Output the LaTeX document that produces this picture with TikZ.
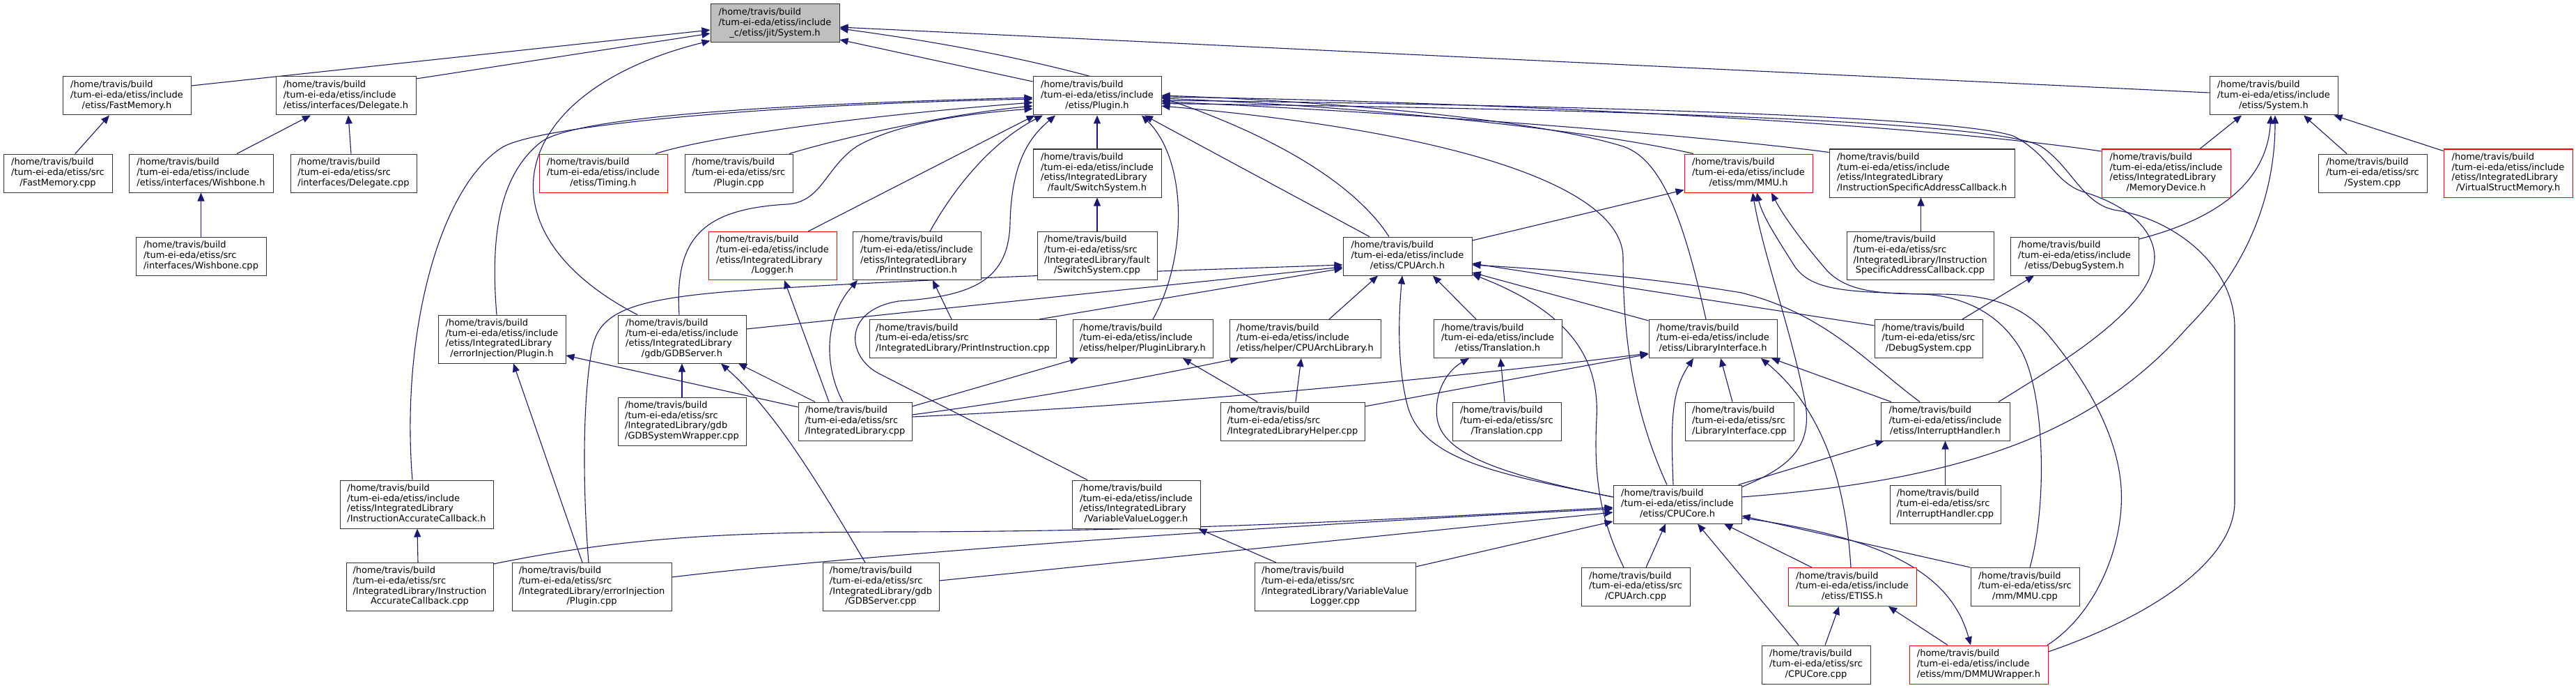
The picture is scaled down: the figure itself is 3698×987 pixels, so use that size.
\documentclass[tikz,border=0pt]{standalone}
\usepackage{fontspec}
\setmainfont{DejaVu Sans}
\usetikzlibrary{arrows.meta}
\pgfdeclarelayer{edges}
\pgfsetlayers{edges,main}
\definecolor{edgec}{HTML}{191970}
\definecolor{nodeg}{HTML}{BFBFBF}
\newcommand\NHB{/home/travis/build}
\newcommand\NTI{/tum-ei-eda/etiss/include}
\newcommand\NTS{/tum-ei-eda/etiss/src}
\newcommand\NIL{/etiss/IntegratedLibrary}
\newcommand\Nlab[2]{\begin{tabular}{@{}l@{}}#1\\\multicolumn{1}{@{}c@{}}{#2}\end{tabular}}
\begin{document}
\begin{tikzpicture}[x=1pt,y=-1pt,
 nb/.style={draw=black!80,line width=1pt,fill=white,inner sep=0pt,font=\fontsize{13}{14.67}\selectfont},
 rb/.style={nb,draw=red},
 ed/.style={draw=edgec,line width=1.1pt,-{Triangle[length=12pt,width=10pt]}}]
\useasboundingbox (0,0) rectangle (3698,987);
% nodes
\node[nb,fill=nodeg,minimum width=185,minimum height=55] (sysj) at (1112.5,33.5) {\Nlab{\NHB\\\NTI}{\_c/etiss/jit/System.h}};
\node[nb,minimum width=184,minimum height=55] (fmh) at (182,137.5) {\Nlab{\NHB\\\NTI}{/etiss/FastMemory.h}};
\node[nb,minimum width=201,minimum height=55] (dlh) at (496.5,137.5) {\Nlab{\NHB\\\NTI}{/etiss/interfaces/Delegate.h}};
\node[nb,minimum width=184,minimum height=55] (plh) at (1575,137.5) {\Nlab{\NHB\\\NTI}{/etiss/Plugin.h}};
\node[nb,minimum width=184,minimum height=55] (sysh) at (3264,137.5) {\Nlab{\NHB\\\NTI}{/etiss/System.h}};
\node[nb,minimum width=156,minimum height=55] (fmc) at (83,248.5) {\Nlab{\NHB\\\NTS}{/FastMemory.cpp}};
\node[nb,minimum width=207,minimum height=55] (wbh) at (288.5,248.5) {\Nlab{\NHB\\\NTI}{/etiss/interfaces/Wishbone.h}};
\node[nb,minimum width=181,minimum height=55] (dlc) at (507.5,248.5) {\Nlab{\NHB\\\NTS}{/interfaces/Delegate.cpp}};
\node[nb,minimum width=187,minimum height=55] (wbc) at (288.5,367.5) {\Nlab{\NHB\\\NTS}{/interfaces/Wishbone.cpp}};
\node[rb,minimum width=184,minimum height=55] (tmh) at (866,248.5) {\Nlab{\NHB\\\NTI}{/etiss/Timing.h}};
\node[nb,minimum width=155,minimum height=55] (plc) at (1060.5,248.5) {\Nlab{\NHB\\\NTS}{/Plugin.cpp}};
\node[nb,minimum width=184,minimum height=69] (ssh) at (1575,248.5) {\Nlab{\NHB\\\NTI\\\NIL}{/fault/SwitchSystem.h}};
\node[nb,minimum width=172,minimum height=69] (ssc) at (1575,367) {\Nlab{\NHB\\\NTS\\/IntegratedLibrary/fault}{/SwitchSystem.cpp}};
\node[rb,minimum width=184,minimum height=55] (mmuh) at (2510,248.5) {\Nlab{\NHB\\\NTI}{/etiss/mm/MMU.h}};
\node[nb,minimum width=266,minimum height=69] (isah) at (2759,248.5) {\Nlab{\NHB\\\NTI\\\NIL}{/InstructionSpecificAddressCallback.h}};
\node[nb,minimum width=211,minimum height=69] (isac) at (2756.5,367) {\Nlab{\NHB\\\NTS\\/IntegratedLibrary/Instruction}{SpecificAddressCallback.cpp}};
\node[rb,minimum width=185,minimum height=69] (mdh) at (3109.5,248.5) {\Nlab{\NHB\\\NTI\\\NIL}{/MemoryDevice.h}};
\node[nb,minimum width=156,minimum height=55] (sysc) at (3406,248.5) {\Nlab{\NHB\\\NTS}{/System.cpp}};
\node[rb,minimum width=185,minimum height=69] (vsmh) at (3600.5,248.5) {\Nlab{\NHB\\\NTI\\\NIL}{/VirtualStructMemory.h}};
\node[rb,minimum width=184,minimum height=69] (lgh) at (1109,367) {\Nlab{\NHB\\\NTI\\\NIL}{/Logger.h}};
\node[nb,minimum width=184,minimum height=69] (pih) at (1316,367) {\Nlab{\NHB\\\NTI\\\NIL}{/PrintInstruction.h}};
\node[nb,minimum width=185,minimum height=55] (cah) at (2020.5,367.5) {\Nlab{\NHB\\\NTI}{/etiss/CPUArch.h}};
\node[nb,minimum width=184,minimum height=55] (dsh) at (2978,367.5) {\Nlab{\NHB\\\NTI}{/etiss/DebugSystem.h}};
\node[nb,minimum width=183,minimum height=69] (eih) at (720.5,486.5) {\Nlab{\NHB\\\NTI\\\NIL}{/errorInjection/Plugin.h}};
\node[nb,minimum width=184,minimum height=69] (gsh) at (979,486.5) {\Nlab{\NHB\\\NTI\\\NIL}{/gdb/GDBServer.h}};
\node[nb,minimum width=268,minimum height=55] (pic) at (1382,486) {\Nlab{\NHB\\\NTS}{/IntegratedLibrary/PrintInstruction.cpp}};
\node[nb,minimum width=201,minimum height=55] (plib) at (1640.5,486) {\Nlab{\NHB\\\NTI}{/etiss/helper/PluginLibrary.h}};
\node[nb,minimum width=217,minimum height=55] (calib) at (1873.5,486) {\Nlab{\NHB\\\NTI}{/etiss/helper/CPUArchLibrary.h}};
\node[nb,minimum width=184,minimum height=55] (trh) at (2150,486) {\Nlab{\NHB\\\NTI}{/etiss/Translation.h}};
\node[nb,minimum width=184,minimum height=55] (lih) at (2459,486) {\Nlab{\NHB\\\NTI}{/etiss/LibraryInterface.h}};
\node[nb,minimum width=155,minimum height=55] (dsc) at (2768.5,486) {\Nlab{\NHB\\\NTS}{/DebugSystem.cpp}};
\node[nb,minimum width=184,minimum height=69] (gswc) at (979,604.5) {\Nlab{\NHB\\\NTS\\/IntegratedLibrary/gdb}{/GDBSystemWrapper.cpp}};
\node[nb,minimum width=163,minimum height=55] (ilc) at (1227.5,604.5) {\Nlab{\NHB\\\NTS}{/IntegratedLibrary.cpp}};
\node[nb,minimum width=207,minimum height=55] (ilhc) at (1855.5,604.5) {\Nlab{\NHB\\\NTS}{/IntegratedLibraryHelper.cpp}};
\node[nb,minimum width=156,minimum height=55] (trc) at (2163,604.5) {\Nlab{\NHB\\\NTS}{/Translation.cpp}};
\node[nb,minimum width=156,minimum height=55] (lic) at (2497,604.5) {\Nlab{\NHB\\\NTS}{/LibraryInterface.cpp}};
\node[nb,minimum width=185,minimum height=55] (ihh) at (2792.5,604.5) {\Nlab{\NHB\\\NTI}{/etiss/InterruptHandler.h}};
\node[nb,minimum width=220,minimum height=69] (iach) at (598,723.5) {\Nlab{\NHB\\\NTI\\\NIL}{/InstructionAccurateCallback.h}};
\node[nb,minimum width=184,minimum height=69] (vvlh) at (1631,723.5) {\Nlab{\NHB\\\NTI\\\NIL}{/VariableValueLogger.h}};
\node[nb,minimum width=184,minimum height=55] (cch) at (2408,723.5) {\Nlab{\NHB\\\NTI}{/etiss/CPUCore.h}};
\node[nb,minimum width=159,minimum height=55] (ihc) at (2792.5,723.5) {\Nlab{\NHB\\\NTS}{/InterruptHandler.cpp}};
\node[nb,minimum width=211,minimum height=69] (iacc) at (602.5,842) {\Nlab{\NHB\\\NTS\\/IntegratedLibrary/Instruction}{AccurateCallback.cpp}};
\node[nb,minimum width=229,minimum height=69] (eic) at (849.5,842) {\Nlab{\NHB\\\NTS\\/IntegratedLibrary/errorInjection}{/Plugin.cpp}};
\node[nb,minimum width=167,minimum height=69] (gsc) at (1264.5,842) {\Nlab{\NHB\\\NTS\\/IntegratedLibrary/gdb}{/GDBServer.cpp}};
\node[nb,minimum width=231,minimum height=69] (vvlc) at (1916.5,842) {\Nlab{\NHB\\\NTS\\/IntegratedLibrary/VariableValue}{Logger.cpp}};
\node[nb,minimum width=156,minimum height=55] (cac) at (2348,842) {\Nlab{\NHB\\\NTS}{/CPUArch.cpp}};
\node[rb,minimum width=184,minimum height=55] (etih) at (2659,842) {\Nlab{\NHB\\\NTI}{/etiss/ETISS.h}};
\node[nb,minimum width=156,minimum height=55] (mmuc) at (2907,842) {\Nlab{\NHB\\\NTS}{/mm/MMU.cpp}};
\node[nb,minimum width=156,minimum height=55] (ccc) at (2607,953.5) {\Nlab{\NHB\\\NTS}{/CPUCore.cpp}};
\node[rb,minimum width=199,minimum height=55] (dmmuh) at (2840.5,953.5) {\Nlab{\NHB\\\NTI}{/etiss/mm/DMMUWrapper.h}};
% edges
\begin{pgfonlayer}{edges}
\fill[white] (0,0) rectangle (3698,987);
% into jit/System.h
\draw[ed] ([yshift=14.5]fmh.east) -- ([yshift=-9.5]sysj.west);
\draw[ed] ([yshift=24.5]dlh.east) -- ([yshift=-14.5]sysj.west);
\draw[ed] ([yshift=20.5]plh.west) -- ([yshift=-23.5]sysj.east);
\draw[ed] ([yshift=4.5]sysh.west) -- ([yshift=-5.5]sysj.east);
\draw[ed] ([xshift=-26.5]cah.north) .. controls (1930,240) and (1720,110) .. ([yshift=-7.5]sysj.east);
\draw[ed] ([xshift=-64]gsh.north) .. controls (680,330) and (730,130) .. ([yshift=3]sysj.south west);
% small left groups
\draw[ed] ([xshift=25]fmc.north) -- ([xshift=-25]fmh.south);
\draw[ed] ([xshift=51.5]wbh.north) -- ([xshift=-50.5]dlh.south);
\draw[ed] ([xshift=-3.5]dlc.north) -- ([xshift=3.5]dlh.south);
\draw[ed] (wbc.north) -- (wbh.south);
% into Plugin.h (left side)
\draw[ed] ([xshift=-6]iach.north) .. controls (575,480) and (630,270) .. (720,212) .. controls (770,180) and (1100,150) .. ([yshift=-4.5]plh.west);
\draw[ed] ([xshift=-7.5]eih.north) .. controls (703,330) and (720,250) .. (775,205) .. controls (820,168) and (1100,150) .. ([yshift=-2.5]plh.west);
\draw[ed] ([xshift=75]tmh.north) .. controls (1020,195) and (1250,165) .. ([yshift=-9.5]plh.west);
\draw[ed] ([xshift=72.5]plc.north) .. controls (1200,200) and (1350,165) .. ([yshift=-14.5]plh.west);
\draw[ed] ([xshift=-4]gsh.north) .. controls (968,340) and (1010,300) .. (1130,293) .. controls (1180,290) and (1185,240) .. (1230,210) .. controls (1290,175) and (1400,162) .. ([yshift=-18.5]plh.west);
\draw[ed] ([xshift=51]lgh.north) -- ([xshift=3]plh.south west);
\draw[ed] ([xshift=19]pih.north) .. controls (1375,260) and (1430,200) .. ([xshift=-78]plh.south);
\draw[ed] ([xshift=-70]vvlh.north) -- (1260,535) .. controls (1215,510) and (1210,445) .. (1290,432) .. controls (1400,425) and (1448,400) .. (1450,320) .. controls (1452,230) and (1480,195) .. ([xshift=-60]plh.south);
\draw[ed] (ssh.north) -- (plh.south);
\draw[ed] (ssc.north) -- (ssh.south);
\draw[ed] ([xshift=14.5]plib.north) .. controls (1705,370) and (1705,230) .. ([xshift=64]plh.south);
\draw[ed] ([xshift=-54.5]cah.north) -- ([xshift=68]plh.south);
% into Plugin.h (right side)
\draw[ed] ([xshift=-15]cch.north) .. controls (2340,580) and (2330,470) .. (2330,370) .. controls (2330,270) and (2100,190) .. ([yshift=-14.5]plh.east);
\draw[ed] ([xshift=-79]mmuh.north) .. controls (2300,190) and (2000,155) .. ([yshift=-3.5]plh.east);
\draw[ed] ([yshift=30]isah.west) .. controls (2450,195) and (2000,160) .. ([yshift=-8.5]plh.east);
\draw[ed] ([yshift=31.5]mdh.west) .. controls (2700,170) and (2000,143) .. ([yshift=-1.5]plh.east);
\draw[ed] ([xshift=76.5]ihh.north) .. controls (2960,520) and (3095,440) .. (3093,367) .. controls (3090,320) and (3040,290) .. (2990,275) .. controls (2950,262) and (2940,220) .. (2890,195) .. controls (2800,165) and (2200,150) .. ([yshift=-6.5]plh.east);
\draw[ed] ([yshift=18.5]dmmuh.east) .. controls (3100,880) and (3208,800) .. (3208,720) -- (3208,470) .. controls (3208,380) and (3120,315) .. (3040,302) .. controls (2990,295) and (2975,240) .. (2930,210) .. controls (2860,170) and (2200,155) .. ([yshift=-11]plh.east);
\draw[ed] ([xshift=-10]lih.north) .. controls (2420,330) and (2390,230) .. (2330,210) .. controls (2200,170) and (1900,145) .. ([yshift=0.5]plh.east);
% into etiss/System.h
\draw[ed] ([xshift=48.5]mdh.north) -- ([xshift=-46]sysh.south);
\draw[ed] ([xshift=-37]sysc.north) -- ([xshift=43]sysh.south);
\draw[ed] ([yshift=-3]vsmh.north west) -- ([xshift=-6]sysh.south east);
\draw[ed] ([yshift=24.5]dsh.east) .. controls (3200,310) and (3255,250) .. ([xshift=-4]sysh.south);
\draw[ed] ([yshift=10.5]cch.east) .. controls (2800,690) and (3000,630) .. (3140,470) .. controls (3240,370) and (3266,260) .. ([xshift=2]sysh.south);
% into MMU.h
\draw[ed] ([yshift=22.5]cah.east) -- ([yshift=4]mmuh.south west);
\draw[ed] ([yshift=-3]cch.north east) .. controls (2570,670) and (2605,640) .. (2590,570) .. controls (2570,470) and (2530,360) .. ([xshift=6]mmuh.south);
\draw[ed] ([xshift=7]mmuc.north) .. controls (2940,720) and (2935,560) .. (2900,500) .. controls (2870,450) and (2820,425) .. (2760,422) .. controls (2660,418) and (2600,420) .. (2575,380) .. controls (2550,340) and (2530,310) .. ([xshift=12]mmuh.south);
\draw[ed] ([xshift=-1.5]dmmuh.north east) .. controls (3010,880) and (3050,780) .. (3045,700) .. controls (3040,620) and (2990,540) .. (2940,480) .. controls (2905,440) and (2860,422) .. (2780,422) .. controls (2700,422) and (2650,420) .. (2620,385) .. controls (2590,350) and (2560,310) .. ([xshift=33]mmuh.south);
% misc
\draw[ed] ([xshift=1]isac.north) -- ([xshift=-1.5]isah.south);
\draw[ed] ([xshift=48.5]dsc.north) -- ([xshift=-58]dsh.south);
\draw[ed] ([xshift=-37.5]ilc.north) -- ([xshift=17]lgh.south);
\draw[ed] ([xshift=-17.5]ilc.north) .. controls (1185,530) and (1180,460) .. ([xshift=-85]pih.south);
\draw[ed] ([xshift=-16]pic.north) -- ([xshift=23]pih.south);
% into CPUArch.h
\draw[ed] ([xshift=110]pic.north) -- ([yshift=-17.5]cah.west);
\draw[ed] ([yshift=14.5]gsh.east) -- ([yshift=-15.5]cah.west);
\draw[ed] ([xshift=-4.5]eic.north) .. controls (835,680) and (838,560) .. (850,500) .. controls (860,450) and (900,430) .. (1050,418) .. controls (1300,400) and (1700,388) .. ([yshift=-12.5]cah.west);
\draw[ed] ([xshift=34.5]calib.north) -- ([xshift=-42.5]cah.south);
\draw[ed] ([yshift=10.5]cch.west) .. controls (2150,680) and (2040,660) .. (2020,580) .. controls (2005,520) and (2008,450) .. ([xshift=-7.5]cah.south);
\draw[ed] ([xshift=-31]trh.north) -- ([xshift=36.5]cah.south);
\draw[ed] ([yshift=19]dsc.west) -- ([yshift=-10.5]cah.east);
\draw[ed] ([xshift=-36.5]ihh.north) .. controls (2680,520) and (2620,450) .. (2500,420) .. controls (2350,395) and (2200,385) .. ([yshift=-12.5]cah.east);
\draw[ed] ([xshift=-17]cac.north) .. controls (2295,740) and (2288,680) .. (2292,600) .. controls (2296,520) and (2260,450) .. ([yshift=2]cah.south east);
\draw[ed] ([yshift=-2]lih.north west) -- ([yshift=-23.5]cah.east);
% errorInjection / GDB
\draw[ed] ([xshift=-13.5]eic.north) -- ([xshift=16.5]eih.south);
\draw[ed] ([yshift=20.5]ilc.west) -- ([yshift=-23.5]eih.east);
\draw[ed] (gswc.north) -- (gsh.south);
\draw[ed] ([xshift=-22.5]gsc.north) .. controls (1150,650) and (1100,580) .. ([xshift=56]gsh.south);
\draw[ed] ([xshift=-57.5]ilc.north) -- ([xshift=81]gsh.south);
% helpers
\draw[ed] ([yshift=21.5]ilc.east) -- ([xshift=-92.5]plib.south);
\draw[ed] ([xshift=-50.5]ilhc.north) -- ([xshift=57.5]plib.south);
\draw[ed] ([yshift=9.5]ilc.east) .. controls (1500,570) and (1650,540) .. ([xshift=-95.5]calib.south);
\draw[ed] ([xshift=4.5]ilhc.north) -- ([xshift=-5.5]calib.south);
\draw[ed] ([yshift=6.5]ilc.east) .. controls (1700,580) and (2100,540) .. ([yshift=-21]lih.west);
\draw[ed] ([yshift=21.5]ilhc.east) -- ([yshift=-22]lih.west);
% Translation / LibraryInterface
\draw[ed] ([yshift=10.5]cch.west) .. controls (2150,680) and (2070,650) .. (2063,600) .. controls (2058,560) and (2080,530) .. ([xshift=-41]trh.south);
\draw[ed] ([xshift=-3]trc.north) -- ([xshift=4]trh.south);
\draw[ed] ([xshift=-6]cch.north) .. controls (2398,600) and (2400,560) .. ([xshift=-28]lih.south);
\draw[ed] ([xshift=-10]lic.north) -- ([xshift=11]lih.south);
\draw[ed] ([xshift=-2]etih.north) .. controls (2650,700) and (2620,590) .. ([xshift=69]lih.south);
\draw[ed] ([xshift=-77.5]ihh.north) -- ([xshift=84]lih.south);
% InterruptHandler
\draw[ed] ([xshift=-5]cch.north east) -- ([xshift=5]ihh.south west);
\draw[ed] (ihc.north) -- (ihh.south);
% callbacks / loggers
\draw[ed] ([xshift=-2.5]iacc.north) -- ([xshift=1]iach.south);
\draw[ed] ([xshift=-84.5]vvlc.north) -- ([xshift=-3]vvlh.south east);
% into CPUCore.h
\draw[ed] ([yshift=-2]iacc.north east) .. controls (900,770) and (1050,763) .. (1300,763) .. controls (1700,762) and (2000,745) .. ([yshift=-4.5]cch.west);
\draw[ed] ([yshift=14]eic.east) .. controls (1150,805) and (1700,760) .. ([yshift=-6.5]cch.west);
\draw[ed] ([yshift=9]gsc.east) -- ([yshift=-11.5]cch.west);
\draw[ed] ([yshift=29]vvlc.east) -- ([yshift=-24.5]cch.west);
\draw[ed] ([xshift=15]cac.north) -- ([xshift=-17]cch.south);
\draw[ed] ([xshift=-25]ccc.north) -- ([xshift=29]cch.south);
\draw[ed] ([xshift=-58]etih.north) -- ([xshift=67]cch.south);
\draw[ed] (mmuc.north west) -- ([yshift=-16.5]cch.east);
\draw[ed] ([yshift=-19.5]cch.east) .. controls (2700,770) and (2800,820) .. ([xshift=-11.5]dmmuh.north);
% into ETISS.h
\draw[ed] ([xshift=13]ccc.north) -- ([xshift=-19]etih.south);
\draw[ed] ([xshift=-44.5]dmmuh.north) -- ([xshift=52]etih.south);
\end{pgfonlayer}
\end{tikzpicture}
\end{document}
